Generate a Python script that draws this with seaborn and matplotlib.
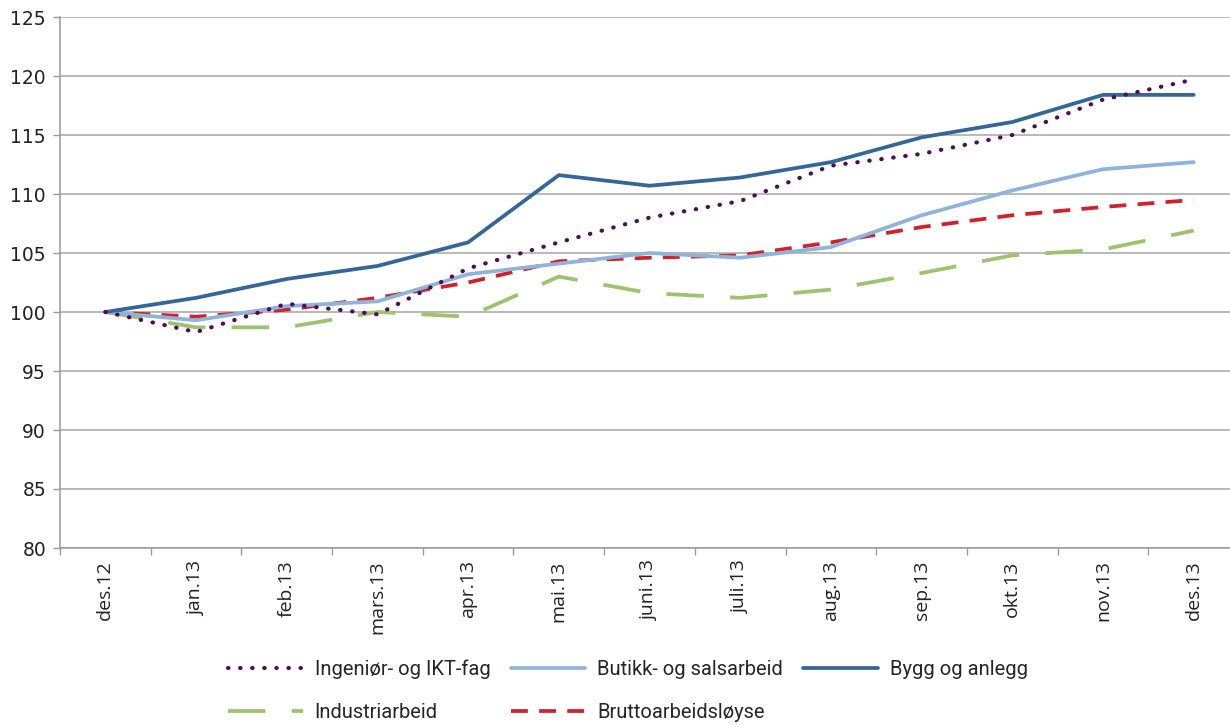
import numpy as np
import pandas as pd
import matplotlib
matplotlib.use("Agg")
import matplotlib.pyplot as plt
import seaborn as sns
from matplotlib.ticker import FixedLocator, MultipleLocator

months = ["des.12", "jan.13", "feb.13", "mars.13", "apr.13", "mai.13", "juni.13",
          "juli.13", "aug.13", "sep.13", "okt.13", "nov.13", "des.13"]

ingenior = [100.0, 98.3, 100.7, 99.8, 103.7, 105.9, 108.0, 109.4, 112.4, 113.4, 115.0, 118.0, 119.7]
butikk = [100.0, 99.3, 100.5, 100.9, 103.2, 104.1, 105.0, 104.6, 105.5, 108.2, 110.3, 112.1, 112.7]
bygg = [100.0, 101.2, 102.8, 103.9, 105.9, 111.6, 110.7, 111.4, 112.7, 114.8, 116.1, 118.4, 118.4]
industri = [100.0, 98.7, 98.7, 100.0, 99.6, 103.0, 101.6, 101.2, 101.9, 103.3, 104.8, 105.3, 106.9]
brutto = [100.0, 99.6, 100.2, 101.2, 102.5, 104.3, 104.6, 104.8, 105.9, 107.2, 108.2, 108.9, 109.5]

series_names = ["Ingeniør- og IKT-fag", "Butikk- og salsarbeid", "Bygg og anlegg",
                "Industriarbeid", "Bruttoarbeidsløyse"]

sns.set_theme(style="white")
plt.rcParams['font.family'] = ['DejaVu Sans']

fig = plt.figure(figsize=(12.3, 7.25), dpi=100)
ax = fig.add_axes([60 / 1230, 1 - 548 / 725, 1 - 60 / 1230, (548 - 17) / 725])

x = np.arange(len(months))

styles = {
    "Ingeniør- og IKT-fag": dict(color="#4E0B58", lw=3.0, linestyle=(0, (0.1, 2.8)),
                                 dash_capstyle="round"),
    "Butikk- og salsarbeid": dict(color="#8EB4DC", lw=2.7, linestyle="-"),
    "Bygg og anlegg": dict(color="#336699", lw=2.7, linestyle="-"),
    "Industriarbeid": dict(color="#9DC46C", lw=2.7, linestyle=(0, (10, 7))),
    "Bruttoarbeidsløyse": dict(color="#D0212C", lw=2.7, linestyle=(0, (4.5, 3))),
}
data = {
    "Ingeniør- og IKT-fag": ingenior,
    "Butikk- og salsarbeid": butikk,
    "Bygg og anlegg": bygg,
    "Industriarbeid": industri,
    "Bruttoarbeidsløyse": brutto,
}

handles = {}
for name in ["Industriarbeid", "Bruttoarbeidsløyse", "Butikk- og salsarbeid",
             "Bygg og anlegg", "Ingeniør- og IKT-fag"]:
    sns.lineplot(x=x, y=data[name], ax=ax, label=name, **styles[name])
for line in ax.get_lines():
    handles[line.get_label()] = line
if ax.get_legend() is not None:
    ax.get_legend().remove()

ax.set_xlim(-0.5, 12.4)
ax.set_ylim(80, 125)
ax.set_yticks(np.arange(80, 126, 5))
ax.set_yticklabels([str(v) for v in range(80, 126, 5)], family=['DejaVu Sans'], fontsize=13.5)
ax.set_xticks(x)
ax.set_xticklabels(months, rotation=90, fontsize=14, family=['Open Sans', 'DejaVu Sans'],
                   color="#222222")
ax.xaxis.set_minor_locator(FixedLocator(np.arange(-0.5, 13, 1)))
ax.tick_params(axis="x", which="major", length=0, pad=9)
ax.tick_params(axis="x", which="minor", length=5, color="#999999", width=1, direction="out",
               bottom=True)
ax.tick_params(axis="y", which="major", length=5, color="#999999", width=1, direction="out",
               left=True, labelcolor="#222222", pad=5)
ax.grid(axis="y", color="#A6A6A6", lw=1.1)
ax.grid(axis="x", visible=False)
for s in ["top", "right"]:
    ax.spines[s].set_visible(False)
for s in ["left", "bottom"]:
    ax.spines[s].set_color("#999999")
    ax.spines[s].set_linewidth(1.1)
ax.set_xlabel("")
ax.set_ylabel("")

order = ["Ingeniør- og IKT-fag", "Industriarbeid", "Butikk- og salsarbeid",
         "Bruttoarbeidsløyse", "Bygg og anlegg"]
fig.legend([handles[n] for n in order], order, ncol=3, loc="lower left",
           bbox_to_anchor=(216 / 1230, -0.012), frameon=False,
           prop={'family': ['Roboto', 'DejaVu Sans'], 'size': 14.5},
           handlelength=3.7, handletextpad=0.6, columnspacing=1.0, labelspacing=1.15,
           borderaxespad=0.2)

fig.savefig("out.png", dpi=100)
